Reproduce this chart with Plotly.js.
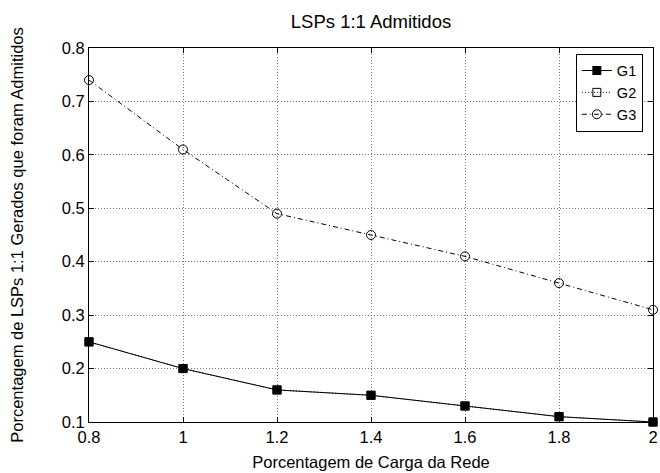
<!DOCTYPE html>
<html>
<head>
<meta charset="utf-8">
<script src="https://cdn.plot.ly/plotly-3.0.1.min.js"></script>
<style>html,body{margin:0;padding:0;background:#fff;}#chart{width:660px;height:473px;}</style>
</head>
<body>
<div id="chart"></div>
<script>
const carga = [0.8, 1.0, 1.2, 1.4, 1.6, 1.8, 2.0];
const g1 = [0.25, 0.20, 0.16, 0.15, 0.13, 0.11, 0.10];
const g2 = [0.25, 0.20, 0.16, 0.15, 0.13, 0.11, 0.10];
const g3 = [0.74, 0.61, 0.49, 0.45, 0.41, 0.36, 0.31];
const xTicks = [0.8, 1, 1.2, 1.4, 1.6, 1.8, 2];
const yTicks = [0.1, 0.2, 0.3, 0.4, 0.5, 0.6, 0.7, 0.8];

const fam = "'Liberation Sans', Arial, Helvetica, sans-serif";
const f = s => ({family: fam, size: s, color: '#000'});
const FS = 16.5;

const traces = [
  {x: carga, y: g2, name: 'G2', mode: 'lines+markers', cliponaxis: false, legendrank: 2,
   line: {color: '#000', width: 1, dash: '1px,2px'},
   marker: {symbol: 'square-open', size: 8, color: '#000', line: {width: 1}}},
  {x: carga, y: g1, name: 'G1', mode: 'lines+markers', cliponaxis: false, legendrank: 1,
   line: {color: '#000', width: 1},
   marker: {symbol: 'square', size: 9, color: '#000'}},
  {x: carga, y: g3, name: 'G3', mode: 'lines+markers', cliponaxis: false, legendrank: 3,
   line: {color: '#000', width: 1, dash: '5px,3px,1px,3px'},
   marker: {symbol: 'circle-open', size: 9, color: '#000', line: {width: 1}}}
];

const axisCommon = {
  showline: true, linecolor: '#000', linewidth: 1, mirror: 'ticks',
  ticks: 'inside', ticklen: 5, tickcolor: '#000',
  showgrid: true, gridcolor: '#777', griddash: '1px,2px', gridwidth: 1,
  zeroline: false, tickfont: f(FS)
};

const layout = {
  width: 660, height: 473,
  margin: {l: 89, r: 7, t: 48, b: 51},
  paper_bgcolor: '#fff', plot_bgcolor: '#fff',
  font: f(FS),
  title: {text: 'LSPs 1:1 Admitidos', font: f(18.5), xref: 'paper', x: 0.5, xanchor: 'center',
          yref: 'container', y: 0.955, yanchor: 'middle'},
  xaxis: Object.assign({}, axisCommon, {
    range: [0.8, 2.0], tickvals: xTicks, ticktext: xTicks.map(String),
    title: {text: 'Porcentagem de Carga da Rede', font: f(FS), standoff: 11}
  }),
  yaxis: Object.assign({}, axisCommon, {
    range: [0.1, 0.8], tickvals: yTicks, ticktext: yTicks.map(v => v.toFixed(1)),
    title: {text: 'Porcentagem de LSPs 1:1 Gerados que foram Admitidos', font: f(FS), standoff: 33}
  }),
  legend: {
    x: 0.982, y: 0.985, xanchor: 'right', yanchor: 'top',
    bordercolor: '#000', borderwidth: 1, bgcolor: '#fff',
    font: f(14.5), tracegroupgap: 0, itemwidth: 30
  },
  showlegend: true
};

Plotly.newPlot('chart', traces, layout, {displayModeBar: false, staticPlot: true});
</script>
</body>
</html>
